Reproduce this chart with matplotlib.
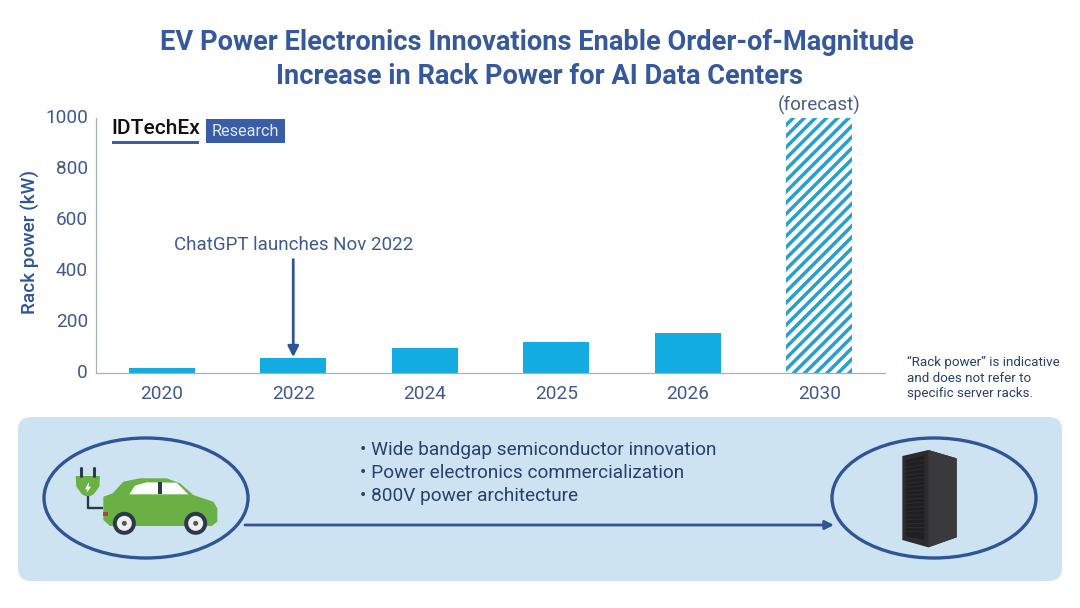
import numpy as np
import matplotlib
matplotlib.use('Agg')
import matplotlib.pyplot as plt
from matplotlib.patches import Ellipse, FancyBboxPatch, Polygon, Circle, Rectangle
from matplotlib.transforms import ScaledTranslation

years = ['2020', '2022', '2024', '2025', '2026', '2030']
rack_power = [20, 60, 100, 120, 155, 1000]
yticks = [0, 200, 400, 600, 800, 1000]
bullets = ['• Wide bandgap semiconductor innovation',
           '• Power electronics commercialization',
           '• 800V power architecture']
note = ['“Rack power” is indicative', 'and does not refer to', 'specific server racks.']

W, H = 1080, 608
NAVY = '#2f5597'
TITLE = '#35599b'
TICK = '#3f5a8f'
TEXT = '#27406e'
BLUE = '#12abe2'
plt.rcParams['font.family'] = ['Roboto', 'DejaVu Sans']
plt.rcParams['hatch.linewidth'] = 2.5


def px(size):
    # pixels to points at dpi 100
    return size * 0.72


fig = plt.figure(figsize=(10.8, 6.08), dpi=100, facecolor='white')

# overlay in pixel coordinates for panel, icons and notes
bg = fig.add_axes([0, 0, 1, 1])
bg.set_xlim(0, W)
bg.set_ylim(H, 0)
bg.axis('off')

# chart
ax = fig.add_axes([96 / W, 1 - 373 / H, (885 - 96) / W, 255 / H])
ax.patch.set_alpha(0)
x = np.arange(len(years))
ax.bar(x[:-1], rack_power[:-1], width=0.5, color=BLUE)
ax.bar(x[-1], rack_power[-1], width=0.5, facecolor='white', edgecolor='#2a9fc9', hatch='///', linewidth=0)
ax.set_xlim(-0.5, 5.5)
ax.set_ylim(0, 1000)
ax.set_xticks(x, years)
ax.set_yticks(yticks)
ax.tick_params(axis='x', length=0, labelsize=px(19), labelcolor=TICK, pad=px(12))
ax.tick_params(axis='y', length=0, labelsize=px(19), labelcolor=TICK, pad=px(8))
up = ScaledTranslation(0, 2 / 100, fig.dpi_scale_trans)
for lab in ax.get_yticklabels():
    lab.set_transform(lab.get_transform() + up)
for s in ['top', 'right']:
    ax.spines[s].set_visible(False)
for s in ['left', 'bottom']:
    ax.spines[s].set_color('#a9b0bd')
    ax.spines[s].set_linewidth(0.9)
ax.set_ylabel('Rack power (kW)', fontsize=px(19), color=NAVY, fontweight='medium')
ax.yaxis.set_label_coords((40 - 96) / 789, (373 - 242) / 255)

ax.annotate('', xy=(1, 62), xytext=(1, 445),
            arrowprops=dict(arrowstyle='-|>', color=NAVY, lw=2, mutation_scale=16, shrinkA=0, shrinkB=0))
ax.text(1, 500, 'ChatGPT launches Nov 2022', ha='center', va='center', fontsize=px(18.8), color=TICK)
ax.text(5, 1048, '(forecast)', ha='center', va='center', fontsize=px(18.9), color='#4a5f85', clip_on=False)

# title
bg.text(537, 43, 'EV Power Electronics Innovations Enable Order-of-Magnitude', ha='center', va='center',
        fontsize=px(27.25), fontweight='bold', color=TITLE)
bg.text(540, 76, 'Increase in Rack Power for AI Data Centers', ha='center', va='center',
        fontsize=px(27.25), fontweight='bold', color=TITLE)

# logo
bg.text(111, 129, 'IDTechEx', ha='left', va='center', fontsize=px(21), fontweight='medium', color='#111111')
bg.add_patch(Rectangle((112, 141), 87, 2.5, color='#3a5da8', lw=0))
bg.add_patch(Rectangle((206, 119), 79, 24, color='#3a5da8', lw=0))
bg.text(245.5, 131, 'Research', ha='center', va='center', fontsize=px(16.3), color='#dfe8f7')

# note
for i, line in enumerate(note):
    bg.text(907, 362 + i * 16, line, ha='left', va='center', fontsize=px(13.45), color=TEXT)

# lower panel
bg.add_patch(FancyBboxPatch((18, 417), 1044, 164, boxstyle='round,pad=0,rounding_size=13',
                            lw=0, facecolor='#cee3f2'))
for i, line in enumerate(bullets):
    bg.text(360, 450 + i * 23, line, ha='left', va='center', fontsize=px(19), color=TEXT)
for cx in [146, 934]:
    bg.add_patch(Ellipse((cx, 498), 204, 120, facecolor='none', edgecolor=NAVY, lw=2.4))
bg.annotate('', xy=(834, 525), xytext=(245, 525),
            arrowprops=dict(arrowstyle='-|>', color=NAVY, lw=2, mutation_scale=13, shrinkA=0, shrinkB=0))


def car_xy(pts):
    # coordinates measured on the 3x crop of the car icon
    return [(20 + a / 3, 430 + b / 3) for a, b in pts]


GREEN = '#6ab044'
DARK = '#2b3a4a'
bg.add_patch(Polygon(car_xy([(250, 200), (278, 190), (310, 155), (360, 145), (440, 145), (480, 160), (520, 195),
                             (580, 215), (592, 235), (592, 275), (575, 288), (270, 288), (250, 270)]),
                     facecolor=GREEN, lw=0))
bg.add_patch(Polygon(car_xy([(328, 193), (345, 167), (380, 157), (470, 158), (505, 193)]), facecolor='white', lw=0))
bg.add_patch(Polygon(car_xy([(415, 156), (427, 156), (427, 193), (415, 193)]), facecolor=DARK, lw=0))
bg.add_patch(Polygon(car_xy([(250, 245), (264, 245), (264, 258), (250, 258)]), facecolor='#b5432e', lw=0))
for cx in [313, 527]:
    c = car_xy([(cx, 280)])[0]
    bg.add_patch(Circle(c, 11.5, facecolor=DARK, lw=0))
    bg.add_patch(Circle(c, 7.5, facecolor='#eeeeee', lw=0))
    bg.add_patch(Circle(c, 2.5, facecolor='#555555', lw=0))
bg.plot(*zip(*car_xy([(203, 198), (203, 235), (250, 235)])), color=DARK, lw=1.7, solid_capstyle='butt')
for a in [183, 222]:
    bg.plot(*zip(*car_xy([(a, 115), (a, 138)])), color=DARK, lw=2.2, solid_capstyle='round')
bg.add_patch(Polygon(car_xy([(167, 138), (240, 138), (238, 170), (222, 192), (212, 198), (195, 198), (185, 192), (169, 170)]),
                     facecolor=GREEN, lw=0))
bg.add_patch(Polygon(car_xy([(208, 155), (195, 178), (203, 178), (199, 190), (213, 170), (205, 170)]),
                     facecolor='white', lw=0))


def rack_xy(pts):
    # coordinates measured on the 3x crop of the server icon
    return [(820 + a / 3, 430 + b / 3) for a, b in pts]


bg.add_patch(Polygon(rack_xy([(247, 78), (325, 60), (410, 85), (410, 322), (325, 352), (247, 330)]),
                     facecolor='#2c2c2e', lw=0))
bg.add_patch(Polygon(rack_xy([(325, 60), (410, 85), (410, 322), (325, 352)]), facecolor='#3a3a3c', lw=0))
bg.add_patch(Polygon(rack_xy([(257, 90), (313, 76), (313, 330), (257, 318)]), facecolor='#202022', lw=0))
for k in range(18):
    y0 = 100 + k * 12
    bg.plot(*zip(*rack_xy([(259, y0), (311, y0 - 9 + k * 0.6)])), color='#2e2e30', lw=0.6)

fig.savefig('out.png', dpi=100)
